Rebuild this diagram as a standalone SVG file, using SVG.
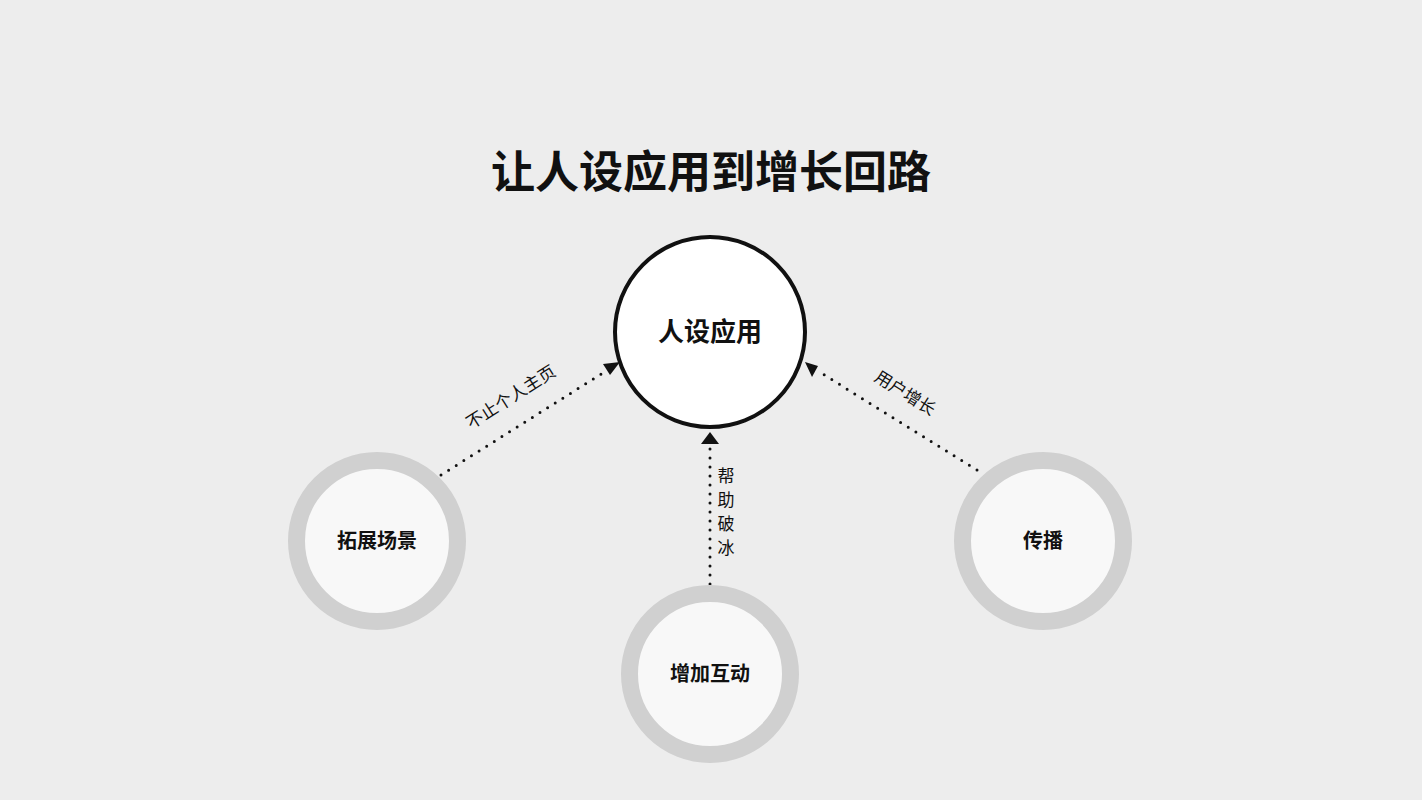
<svg xmlns="http://www.w3.org/2000/svg" width="1422" height="800" viewBox="0 0 1422 800">
<style>
text{font-family:"Noto Sans CJK SC","Noto Sans",sans-serif;fill:#111}
.sat{fill:#f8f8f8;stroke:#d0d0d0;stroke-width:17}
.nl{font-size:20px;font-weight:bold;text-anchor:middle}
.cl{font-size:17px;text-anchor:middle}
.dot{stroke:#111;stroke-width:3;stroke-linecap:round;stroke-dasharray:0 9;fill:none}
</style>
<defs><marker id="ah" viewBox="0 0 10 10" refX="9" refY="5" markerWidth="5" markerHeight="5" orient="auto" markerUnits="userSpaceOnUse" overflow="visible"><path d="M0,0 L16,6 L0,12 Z" transform="translate(-6,-1)" fill="#111"/></marker></defs>
<rect width="1422" height="800" fill="#ededed"/>
<text x="711" y="188" font-size="44" font-weight="bold" text-anchor="middle">让人设应用到增长回路</text>
<g id="connectors">
<line class="dot" x1="441" y1="475" x2="606" y2="371"/>
<path d="M620,362 L603,364 L610,375 Z" fill="#111"/>
<line class="dot" x1="977" y1="470" x2="818" y2="371"/>
<path d="M805,362 L812,377 L818,366 Z" fill="#111"/>
<line class="dot" x1="710" y1="584" x2="710" y2="446"/>
<path d="M710,432 L701,444 L719,444 Z" fill="#111"/>
<text class="cl" transform="translate(514,402) rotate(-32.5)">不止个人主页</text>
<text class="cl" transform="translate(902,398) rotate(32)">用户增长</text>
<text class="cl" x="726" y="482">帮</text>
<text class="cl" x="726" y="506">助</text>
<text class="cl" x="726" y="530">破</text>
<text class="cl" x="726" y="554">冰</text>
</g>
<g id="center"><circle cx="710" cy="332" r="95" fill="#fff" stroke="#111" stroke-width="4"/><text x="710" y="341" font-size="26" font-weight="bold" text-anchor="middle">人设应用</text></g>
<g id="left"><circle class="sat" cx="377" cy="541" r="80.5"/><text class="nl" x="377" y="548">拓展场景</text></g>
<g id="bottom"><circle class="sat" cx="710" cy="674" r="80.5"/><text class="nl" x="710" y="681">增加互动</text></g>
<g id="right"><circle class="sat" cx="1043" cy="541" r="80.5"/><text class="nl" x="1043" y="548">传播</text></g>
</svg>
